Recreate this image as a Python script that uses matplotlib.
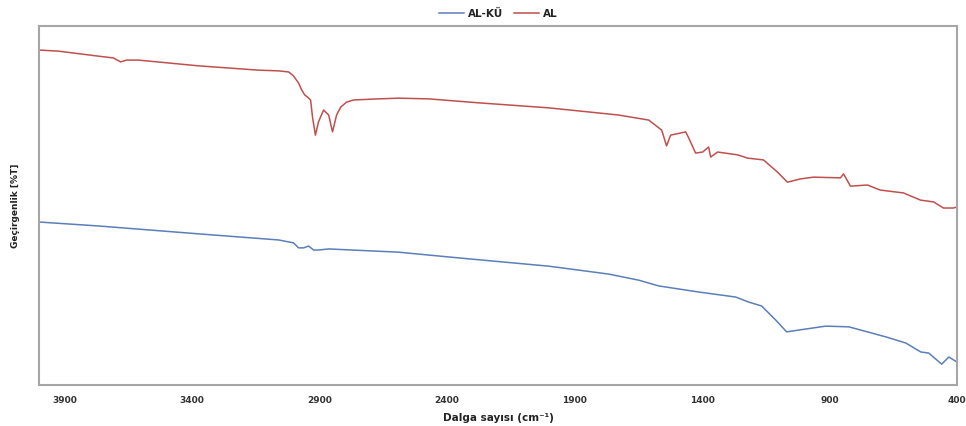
import matplotlib
matplotlib.use("Agg")
import matplotlib.pyplot as plt

# Wavenumbers (cm-1) and transmittance (arbitrary %T)
al_wn = [4000, 3924, 3767, 3708, 3680, 3657, 3610, 3374, 3139, 3060, 3021, 3002,
         2982, 2970, 2958, 2947, 2935, 2927, 2916, 2904, 2884, 2864, 2849, 2833,
         2817, 2794, 2766, 2668, 2590, 2472, 2276, 2001, 1727, 1609, 1558, 1539,
         1523, 1464, 1452, 1425, 1397, 1374, 1366, 1339, 1260, 1221, 1159, 1104,
         1065, 1014, 963, 857, 845, 818, 751, 701, 610, 543, 492, 453, 414, 400]
al_t = [93.3, 93.0, 91.6, 91.1, 90.0, 90.5, 90.5, 88.9, 87.7, 87.5, 87.2, 86.1,
        84.1, 82.2, 80.8, 80.2, 79.4, 74.4, 69.6, 73.3, 76.6, 75.2, 70.5, 75.2,
        77.4, 78.8, 79.4, 79.7, 79.9, 79.7, 78.6, 77.2, 75.2, 73.8, 71.0, 66.6,
        69.6, 70.5, 68.8, 64.6, 64.9, 66.3, 63.5, 64.9, 64.1, 63.2, 62.7, 59.3,
        56.5, 57.4, 57.9, 57.7, 58.8, 55.4, 55.7, 54.3, 53.5, 51.5, 51.0, 49.3,
        49.3, 49.6]

alku_wn = [4000, 3767, 3374, 3060, 3002, 2982, 2962, 2943, 2923, 2904, 2864, 2590,
           2354, 2001, 1766, 1648, 1570, 1413, 1268, 1217, 1166, 1111, 1068, 1021,
           915, 824, 679, 601, 542, 511, 460, 432, 400]
alku_t = [45.4, 44.3, 42.1, 40.4, 39.6, 38.2, 38.2, 38.7, 37.6, 37.6, 37.9, 37.0,
          35.4, 33.1, 30.9, 29.2, 27.6, 25.9, 24.5, 23.1, 22.0, 18.1, 14.8, 15.3,
          16.4, 16.2, 13.4, 11.7, 9.2, 8.9, 5.8, 7.8, 6.4]

x_ticks = [3900, 3400, 2900, 2400, 1900, 1400, 900, 400]
series_names = ["AL-KÜ", "AL"]

fig = plt.figure(figsize=(9.66, 4.26), dpi=100)
ax = fig.add_axes([39/966, 41/426, (957-39)/966, (385-26)/426])

ax.plot(alku_wn, alku_t, color="#5b7fb8", lw=1.1, label=series_names[0])
ax.plot(al_wn, al_t, color="#c0504d", lw=1.1, label=series_names[1])

ax.set_xlim(4000, 400)
ax.set_ylim(0, 100)
ax.set_xticks(x_ticks)
ax.set_xticklabels([str(t) for t in x_ticks], fontsize=6.5, fontweight="bold", color="#333333")
ax.tick_params(axis="x", length=0, pad=8)
ax.set_yticks([])
for s in ax.spines.values():
    s.set_color("#a6a6a6")
    s.set_linewidth(1.5)

ax.set_xlabel("Dalga sayısı (cm⁻¹)", fontsize=7.5, fontweight="bold", color="#222222", labelpad=6)
ax.set_ylabel("Geçirgenlik [%T]", fontsize=6.5, fontweight="bold", color="#222222", labelpad=14)

leg = ax.legend(loc="lower center", bbox_to_anchor=(0.5, 1.0), ncol=2, frameon=False,
                prop={"size": 7.5, "weight": "bold"}, handlelength=2.4, columnspacing=1.0,
                handletextpad=0.4, borderaxespad=0.3)
for t in leg.get_texts():
    t.set_color("#222222")

fig.savefig("out.png", dpi=100, facecolor="white")
